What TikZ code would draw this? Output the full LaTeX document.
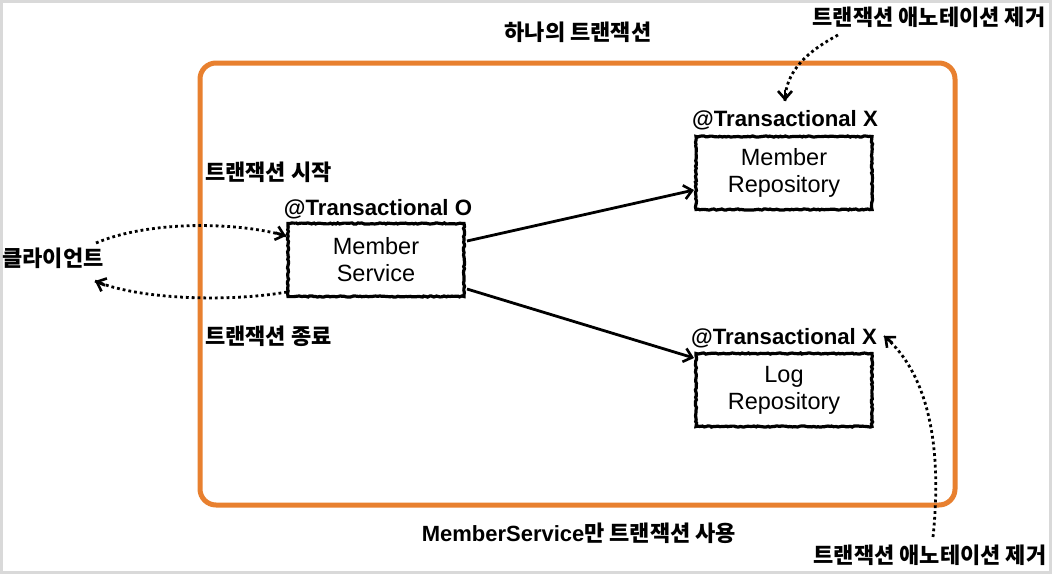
\documentclass[tikz,border=0pt]{standalone}
\usepackage{fontspec}
\setmainfont{Liberation Sans}
\newfontfamily\kr{Noto Sans CJK KR}
\usetikzlibrary{arrows.meta,decorations.pathmorphing,calc}
\definecolor{orng}{HTML}{E8802F}
\definecolor{frame}{HTML}{D9D9D9}
\tikzset{
  box/.style={draw, line width=3.2pt, fill=white, align=center, inner sep=0pt,
    minimum width=176pt, minimum height=73pt,
    font=\fontsize{23.5}{27}\selectfont,
    decorate, decoration={random steps, segment length=2pt, amplitude=0.6pt}},
  lbl/.style={font=\fontsize{22.2}{26}\selectfont\bfseries, inner sep=0pt},
  krl/.style={font=\fontsize{22}{26}\selectfont\kr\bfseries, inner sep=0pt},
  tip/.style={-{Straight Barb[length=8pt,width=14pt,line width=2.6pt]}},
  solidarrow/.style={tip, line width=2.8pt},
  dotline/.style={line width=2.8pt, dash pattern=on 2.8pt off 3pt},
  tipseg/.style={tip, line width=2.8pt, solid},
}
\begin{document}
\begin{tikzpicture}[x=1pt,y=-1pt]
\useasboundingbox (0,0) rectangle (1052,574);
\fill[white] (0,0) rectangle (1052,574);
\draw[frame, line width=3pt] (1.5,1.5) rectangle (1050.5,572.5);
\draw[orng, line width=5pt, rounded corners=16pt] (200,63) rectangle (955,505);

\node[box] (svc) at (376,260) {Member\\Service};
\node[box] (mrep) at (784,173) {Member\\Repository};
\node[box] (lrep) at (784,390) {Log\\Repository};

\node[lbl] (tO) at (378,209) {@Transactional O};
\node[lbl] (tX1) at (785,120) {@Transactional X};
\node[lbl] (tX2) at (784,338) {@Transactional X};

\node[krl] (client) at (53,258) {클라이언트};
\node[krl, anchor=west] (start) at (205,172) {트랜잭션 시작};
\node[krl, anchor=west] (finish) at (205,336) {트랜잭션 종료};
\node[krl] (title) at (578,32) {하나의 트랜잭션};
\node[krl] (rm1) at (929,17) {트랜잭션 애노테이션 제거};
\node[krl] (rm2) at (930,555) {트랜잭션 애노테이션 제거};
\node[inner sep=0pt] (bottom) at (579,533) {\fontsize{22}{26}\selectfont\bfseries MemberService{\kr\bfseries 만 트랜잭션 사용}};

% client <-> service
\coordinate (c1) at (96,243);
\coordinate (s1) at (286,236);
\coordinate (k1) at (240,222);
\draw[dotline] (c1) .. controls (150,220) and (k1) .. (s1);
\draw[tipseg] ($(s1)!11pt!(k1)$) -- (s1);
\coordinate (s2) at (287,292);
\coordinate (c2) at (95,281);
\coordinate (k2) at (140,300);
\draw[dotline] (s2) .. controls (230,302) and (k2) .. (c2);
\draw[tipseg] ($(c2)!11pt!(k2)$) -- (c2);

% service -> repositories
\coordinate (a1) at (467,241);
\coordinate (b1) at (694,190);
\coordinate (a2) at (467,289);
\coordinate (b2) at (694,358);
\draw[solidarrow] (a1) -- (b1);
\draw[solidarrow] (a2) -- (b2);

% annotation removal notes
\coordinate (r1) at (838,35);
\coordinate (e1) at (785,101);
\coordinate (k3) at (785,70);
\draw[dotline] (r1) .. controls (810,50) and (k3) .. (e1);
\draw[tipseg] ($(e1)!11pt!(k3)$) -- (e1);
\coordinate (r2) at (933,537);
\coordinate (e2) at (884,336);
\coordinate (k4) at (930,375);
\draw[dotline] (r2) .. controls (942,450) and (k4) .. (e2);
\draw[tipseg] ($(e2)!11pt!(k4)$) -- (e2);
\end{tikzpicture}
\end{document}
